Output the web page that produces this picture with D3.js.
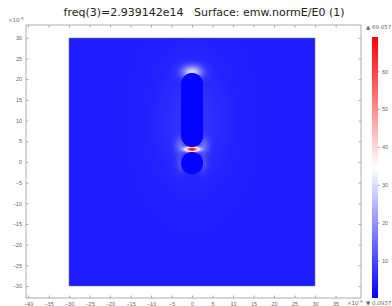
<!DOCTYPE html>
<html>
<head>
<meta charset="utf-8">
<script src="https://cdn.jsdelivr.net/npm/d3@7"></script>
<style>
  body { margin: 0; background: #fff; }
  svg { display: block; font-family: "DejaVu Sans", sans-serif; }
  .title { white-space: pre; }
</style>
</head>
<body>
<div id="chart"></div>
<script>
// Chart values
const title = "freq(3)=2.939142e14   Surface: emw.normE/E0 (1)";
const xTicks = [-40, -35, -30, -25, -20, -15, -10, -5, 0, 5, 10, 15, 20, 25, 30, 35];
const yTicks = [-30, -25, -20, -15, -10, -5, 0, 5, 10, 15, 20, 25, 30];
const colorTicks = [10, 20, 30, 40, 50, 60];
const valueRange = [0.0937, 69.057];
const colorStops = ["#0000ff", "#ffffff", "#ff0000"];

// geometry of the simulation domain (units of 1e-9 m)
const domainX = [-30, 30];
const domainY = [-30, 30];
const capsule = [0, 6.3, 18.8, 2.7];   // x, lower cap centre, upper cap centre, radius
const sphere = [0, -0.3, 2.7];         // x, y, radius

// field levels: background, inside the particles, and local hot spots
const backgroundLevel = 4;
const insideLevel = 0.8;
// hot spots: x, y, peak, spread x, spread y
const hotSpots = [
  [0, 3.05, 64, 1.7, 0.6],
  [0, 21.7, 24, 2.4, 1.6],
  [-2.9, 4.0, 8, 1.3, 2.0],
  [2.9, 4.0, 8, 1.3, 2.0],
  [-2.8, -0.5, 5, 1.0, 2.2],
  [2.8, -0.5, 5, 1.0, 2.2],
  [0, 10, 3, 9, 15]
];

const width = 392, height = 306;
const frame = { left: 26, right: 361, top: 25, bottom: 298 };

const svg = d3.select("#chart").append("svg")
  .attr("width", width).attr("height", height);

const x = d3.scaleLinear().domain([-40.5, 41.2]).range([frame.left, frame.right]);
const y = d3.scaleLinear().domain([33.1, -32.9]).range([frame.top, frame.bottom]);

const color = d3.scaleLinear()
  .domain([valueRange[0], (valueRange[0] + valueRange[1]) / 2, valueRange[1]])
  .range(colorStops)
  .clamp(true);

// field model
function insideShape(px, py) {
  const [cx, y1, y2, r] = capsule;
  const cy = Math.max(y1, Math.min(y2, py));
  if ((px - cx) * (px - cx) + (py - cy) * (py - cy) <= r * r) return true;
  const [sx, sy, sr] = sphere;
  return (px - sx) * (px - sx) + (py - sy) * (py - sy) <= sr * sr;
}

function field(px, py) {
  if (insideShape(px, py)) return insideLevel;
  let v = backgroundLevel;
  hotSpots.forEach(([hx, hy, peak, lx, ly]) => {
    const dx = (px - hx) / lx, dy = (py - hy) / ly;
    v += peak * Math.exp(-(dx * dx) - dy * dy);
  });
  return v;
}

// render the surface plot into a canvas, then place it in the svg
const x0 = Math.round(x(domainX[0])), x1 = Math.round(x(domainX[1]));
const y0 = Math.round(y(domainY[1])), y1 = Math.round(y(domainY[0]));
const cw = x1 - x0, ch = y1 - y0;
const canvas = document.createElement("canvas");
canvas.width = cw * 2;
canvas.height = ch * 2;
const ctx = canvas.getContext("2d");
const img = ctx.createImageData(canvas.width, canvas.height);
for (let j = 0; j < canvas.height; j++) {
  for (let i = 0; i < canvas.width; i++) {
    const px = x.invert(x0 + (i + 0.5) / 2);
    const py = y.invert(y0 + (j + 0.5) / 2);
    const c = d3.rgb(color(field(px, py)));
    const k = (j * canvas.width + i) * 4;
    img.data[k] = c.r; img.data[k + 1] = c.g; img.data[k + 2] = c.b; img.data[k + 3] = 255;
  }
}
ctx.putImageData(img, 0, 0);

svg.append("image")
  .attr("x", x0).attr("y", y0)
  .attr("width", cw).attr("height", ch)
  .attr("preserveAspectRatio", "none")
  .attr("href", canvas.toDataURL());

svg.append("rect")
  .attr("x", x0).attr("y", y0)
  .attr("width", cw).attr("height", ch)
  .attr("fill", "none")
  .attr("stroke", "#7a7a9a")
  .attr("stroke-width", 0.6);

// frame and axes
const axisColor = "#999";
const labelColor = "#666";

svg.append("rect")
  .attr("x", frame.left).attr("y", frame.top)
  .attr("width", frame.right - frame.left).attr("height", frame.bottom - frame.top)
  .attr("fill", "none")
  .attr("stroke", axisColor)
  .attr("stroke-width", 0.8);

function styleAxis(g) {
  g.select(".domain").remove();
  g.selectAll(".tick line").attr("stroke", axisColor).attr("stroke-width", 0.8);
  g.selectAll(".tick text").attr("fill", labelColor).attr("font-size", 5.5);
}

svg.append("g")
  .attr("transform", `translate(0,${frame.bottom})`)
  .call(d3.axisBottom(x).tickValues(xTicks).tickSize(-2.5).tickPadding(4).tickFormat(d3.format("d")))
  .call(styleAxis);

svg.append("g")
  .attr("transform", `translate(0,${frame.top})`)
  .call(d3.axisTop(x).tickValues(xTicks).tickSize(-2.5).tickFormat(""))
  .call(styleAxis);

svg.append("g")
  .attr("transform", `translate(${frame.left},0)`)
  .call(d3.axisLeft(y).tickValues(yTicks).tickSize(-2.5).tickPadding(4).tickFormat(d3.format("d")))
  .call(styleAxis);

svg.append("g")
  .attr("transform", `translate(${frame.right},0)`)
  .call(d3.axisRight(y).tickValues(yTicks).tickSize(-2.5).tickFormat(""))
  .call(styleAxis);

// exponent labels
function exponent(px, py) {
  const t = svg.append("text")
    .attr("x", px).attr("y", py)
    .attr("fill", labelColor).attr("font-size", 5.5);
  t.append("tspan").text("\u00d710");
  t.append("tspan").attr("dy", -2.5).attr("font-size", 4).text("-9");
}
exponent(8, 22);
exponent(347, 305);

// title
svg.append("text")
  .attr("class", "title")
  .attr("x", 204).attr("y", 16)
  .attr("text-anchor", "middle")
  .attr("fill", "#222")
  .attr("font-size", 11)
  .text(title);

// colour bar
const bar = { x: 372, w: 6, top: 37, bottom: 298 };
const cy = d3.scaleLinear().domain(valueRange).range([bar.bottom, bar.top]);

const grad = svg.append("defs").append("linearGradient")
  .attr("id", "cbar").attr("x1", 0).attr("y1", 1).attr("x2", 0).attr("y2", 0);
grad.selectAll("stop").data(colorStops).join("stop")
  .attr("offset", (d, i) => i / (colorStops.length - 1))
  .attr("stop-color", d => d);

svg.append("rect")
  .attr("x", bar.x).attr("y", bar.top)
  .attr("width", bar.w).attr("height", bar.bottom - bar.top)
  .attr("fill", "url(#cbar)");

const cAxis = svg.append("g")
  .attr("transform", `translate(${bar.x + bar.w},0)`)
  .call(d3.axisRight(cy).tickValues(colorTicks).tickSize(1.5).tickPadding(2.5))
  .call(styleAxis);
cAxis.selectAll(".tick line").attr("stroke", "#777");

svg.append("text")
  .attr("x", 366).attr("y", 28.5)
  .attr("fill", labelColor).attr("font-size", 5.5)
  .text("\u25b2 " + valueRange[1]);

svg.append("text")
  .attr("x", 366).attr("y", 305)
  .attr("fill", labelColor).attr("font-size", 5.5)
  .text("\u25bc " + valueRange[0]);
</script>
</body>
</html>
